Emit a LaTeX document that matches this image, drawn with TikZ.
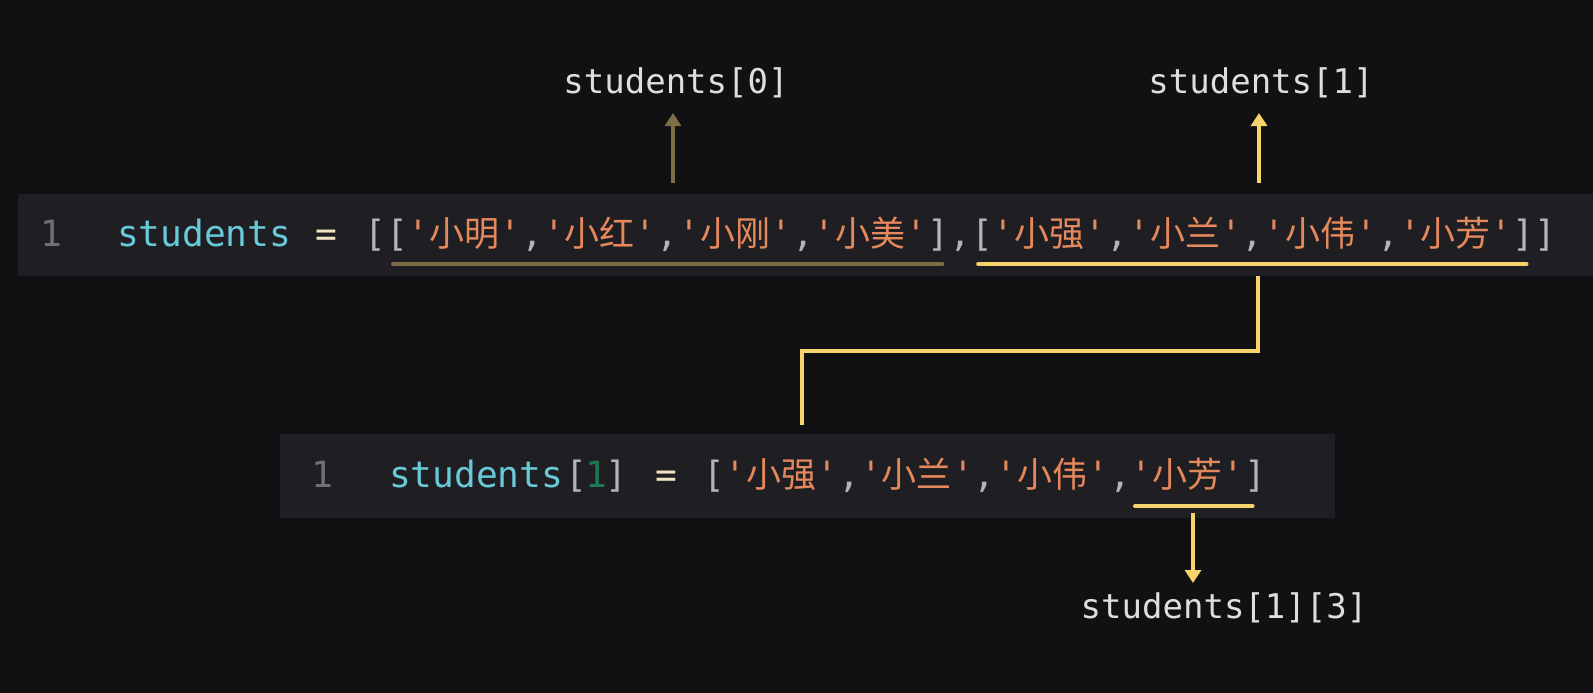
\documentclass[tikz,border=0pt]{standalone}
\usepackage{fontspec}
\setmonofont{DejaVu Sans Mono}
\newfontfamily\cjkfont[Scale=0.967]{Noto Sans CJK SC}
\usetikzlibrary{arrows.meta,calc}
\definecolor{bgc}{HTML}{111114}
\definecolor{stripc}{HTML}{1F1F23}
\definecolor{lnumc}{HTML}{707074}
\definecolor{kwc}{HTML}{68C9D8}
\definecolor{opc}{HTML}{F2E4C2}
\definecolor{brkc}{HTML}{B4B4B8}
\definecolor{strc}{HTML}{E5895C}
\definecolor{numc}{HTML}{1D7A50}
\definecolor{brnc}{HTML}{7D6E48}
\definecolor{yelc}{HTML}{F7D36C}
\definecolor{lblc}{HTML}{DEDEDE}
\newcommand{\qstr}[1]{{\color{strc}'{\cjkfont #1}'}}
\newcommand{\sepc}{{\color{brkc},}}
\newcommand{\obr}{{\color{brkc}[}}
\newcommand{\cbr}{{\color{brkc}]}}
\tikzset{
  code/.style={font=\ttfamily\fontsize{36.2}{40}\selectfont, text=brkc, inner sep=0pt, outer sep=0pt, anchor=base west},
  lab/.style={font=\ttfamily\fontsize{34}{38}\selectfont, text=lblc, inner sep=0pt, anchor=base},
  panel/.style={fill=stripc, draw=none, inner sep=0pt, anchor=north west},
  yline/.style={draw=yelc, line width=3.6pt},
  bline/.style={draw=brnc, line width=3.6pt},
  uline/.style={line cap=round, line width=4pt},
  tipB/.style={-{Triangle[length=13pt,width=16pt]}}
}
\begin{document}
\begin{tikzpicture}[x=1pt,y=-1pt]
\fill[bgc] (0,0) rectangle (1593,693);
\useasboundingbox (0,0) rectangle (1593,693);
% panels
\node[panel, minimum width=1575pt, minimum height=82pt] (p1) at (18,194) {};
\node[panel, minimum width=1055pt, minimum height=84pt] (p2) at (280,434) {};
% top code line
\node[code, anchor=base] (n1) at (51,246) {\color{lnumc}1};
\node[code] (kw1) at (117,246) {\color{kwc}students};
\node[code, anchor=base] (eq1) at (326.5,246) {\color{opc}=};
\node[code] (ob1) at (364.2,246) {\obr};
\node[code] (L0) at (386,246) {\obr\qstr{小明}\sepc\qstr{小红}\sepc\qstr{小刚}\sepc\qstr{小美}\cbr};
\node[code] (c1) at (L0.base east) {\sepc};
\node[code] (L1) at (c1.base east) {\obr\qstr{小强}\sepc\qstr{小兰}\sepc\qstr{小伟}\sepc\qstr{小芳}\cbr};
\node[code] (cb1) at (L1.base east) {\cbr};
% underlines top
\draw[bline, uline] ([shift={(7,18)}]L0.base west) -- ([shift={(-7,18)}]L0.base east);
\draw[yline, uline] ([shift={(7,18)}]L1.base west) -- ([shift={(-8,18)}]L1.base east);
% top labels and arrows
\node[lab] (lab0) at (676,93) {students[0]};
\node[lab] (lab1) at (1261,93) {students[1]};
\coordinate (a0) at (673,183);
\coordinate (a0t) at (673,113);
\coordinate (a1) at (1259,183);
\coordinate (a1t) at (1259,113);
\draw[bline, tipB] (a0) -- (a0t);
\draw[yline, tipB] (a1) -- (a1t);
% elbow connector
\coordinate (e0) at (1258,276);
\coordinate (e1) at (802,425);
\draw[yline] (e0) -- ++(0,75) -| (e1);
% lower code line
\node[code, anchor=base] (n2) at (322,487) {\color{lnumc}1};
\node[code] (kw2) at (389,487) {\color{kwc}students};
\node[code, anchor=base] (ob2) at (576,487) {\obr};
\node[code, anchor=base] (ix2) at (596.5,487) {\color{numc}1};
\node[code, anchor=base] (cb2) at (616,487) {\cbr};
\node[code, anchor=base] (eq2) at (666,487) {\color{opc}=};
\node[code] (L2a) at (703,487) {\obr\qstr{小强}\sepc\qstr{小兰}\sepc\qstr{小伟}\sepc};
\node[code] (L2b) at (L2a.base east) {\qstr{小芳}};
\node[code] (cb3) at (L2b.base east) {\cbr};
\draw[yline, uline] ([shift={(4,19)}]L2b.base west) -- ([shift={(8,19)}]L2b.base east);
% lower arrow and label
\node[lab] (lab3) at (1224,618) {students[1][3]};
\coordinate (d0) at (1193,513);
\coordinate (d1) at (1193,583);
\draw[yline, tipB] (d0) -- (d1);
\end{tikzpicture}
\end{document}
